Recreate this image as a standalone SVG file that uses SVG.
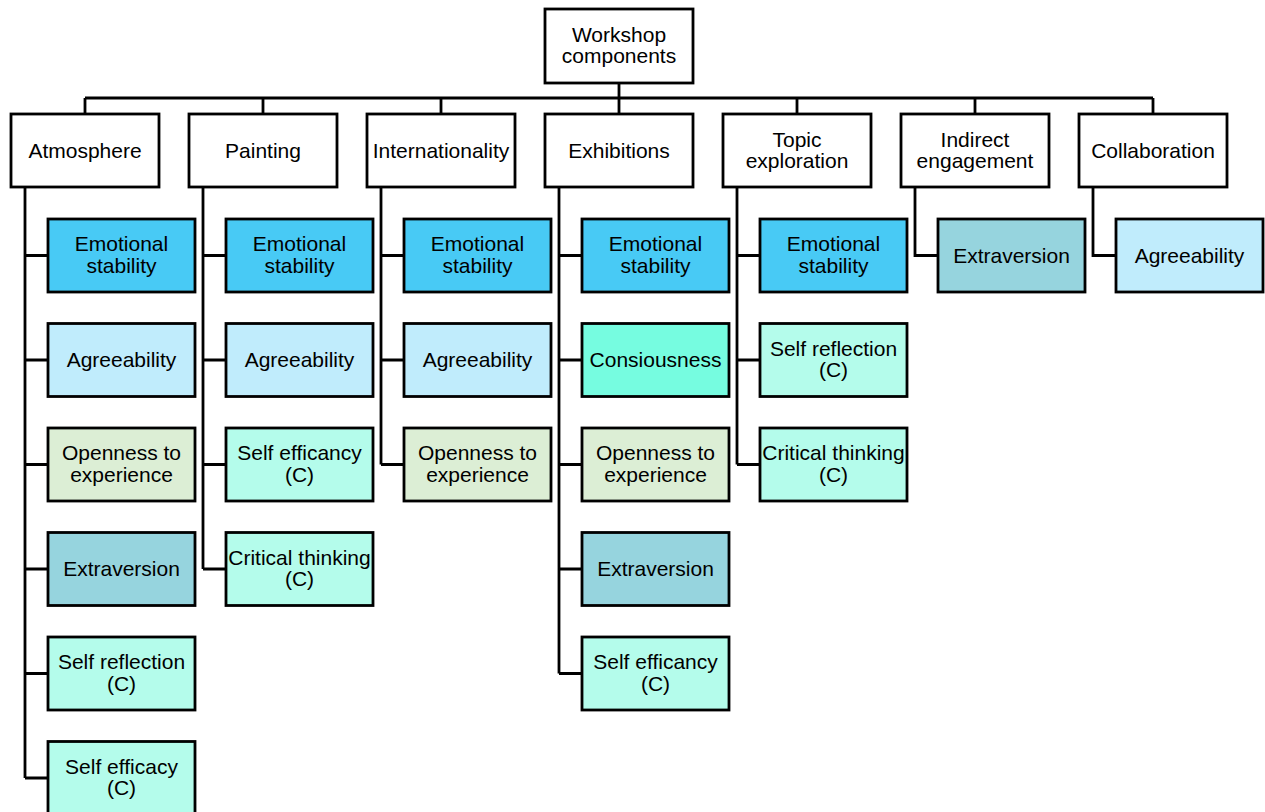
<svg xmlns="http://www.w3.org/2000/svg" width="1265" height="812" viewBox="0 0 1265 812">
<style>
.b{stroke:#000;stroke-width:2.8}
.w{fill:#fff}
.es{fill:#48CAF5}
.ag{fill:#C0ECFC}
.op{fill:#DCEED5}
.ex{fill:#96D4DE}
.cc{fill:#B4FCEB}
.cs{fill:#76FCE0}
text{font-family:"Liberation Sans",Arial,sans-serif;font-size:21px;fill:#000;text-anchor:middle}
.c path{fill:none;stroke:#000;stroke-width:2.8}
</style>
<g class="c" id="connectors">
<path d="M619 83V98M85 98H1153M85 98V114M263 98V114M441 98V114M619 98V114M797 98V114M975 98V114M1153 98V114"/>
<path d="M25 187V778M25 255.5H48M25 360H48M25 464.5H48M25 569H48M25 673.5H48M25 778H48"/>
<path d="M203 187V569M203 255.5H226M203 360H226M203 464.5H226M203 569H226"/>
<path d="M381 187V464.5M381 255.5H404M381 360H404M381 464.5H404"/>
<path d="M559 187V673.5M559 255.5H582M559 360H582M559 464.5H582M559 569H582M559 673.5H582"/>
<path d="M737 187V464.5M737 255.5H760M737 360H760M737 464.5H760"/>
<path d="M915 187V255.5H938"/>
<path d="M1093 187V255.5H1116"/>
</g>
<g id="root"><rect class="b w" x="545" y="9" width="148" height="74"/><text x="619" y="41.5">Workshop</text><text x="619" y="63">components</text></g>
<g id="cat-atmosphere"><rect class="b w" x="11" y="114" width="148" height="73"/><text x="85" y="157.5">Atmosphere</text></g>
<g id="cat-painting"><rect class="b w" x="189" y="114" width="148" height="73"/><text x="263" y="157.5">Painting</text></g>
<g id="cat-internationality"><rect class="b w" x="367" y="114" width="148" height="73"/><text x="441" y="157.5">Internationality</text></g>
<g id="cat-exhibitions"><rect class="b w" x="545" y="114" width="148" height="73"/><text x="619" y="157.5">Exhibitions</text></g>
<g id="cat-topic"><rect class="b w" x="723" y="114" width="148" height="73"/><text x="797" y="146.5">Topic</text><text x="797" y="168">exploration</text></g>
<g id="cat-indirect"><rect class="b w" x="901" y="114" width="148" height="73"/><text x="975" y="146.5">Indirect</text><text x="975" y="168">engagement</text></g>
<g id="cat-collaboration"><rect class="b w" x="1079" y="114" width="148" height="73"/><text x="1153" y="157.5">Collaboration</text></g>

<g id="a1"><rect class="b es" x="48" y="219" width="147" height="73"/><text x="121.5" y="251">Emotional</text><text x="121.5" y="272.5">stability</text></g>
<g id="a2"><rect class="b ag" x="48" y="323.5" width="147" height="73"/><text x="121.5" y="367">Agreeability</text></g>
<g id="a3"><rect class="b op" x="48" y="428" width="147" height="73"/><text x="121.5" y="460">Openness to</text><text x="121.5" y="481.5">experience</text></g>
<g id="a4"><rect class="b ex" x="48" y="532.5" width="147" height="73"/><text x="121.5" y="576">Extraversion</text></g>
<g id="a5"><rect class="b cc" x="48" y="637" width="147" height="73"/><text x="121.5" y="669">Self reflection</text><text x="121.5" y="690.5">(C)</text></g>
<g id="a6"><rect class="b cc" x="48" y="741.5" width="147" height="73"/><text x="121.5" y="773.5">Self efficacy</text><text x="121.5" y="795">(C)</text></g>

<g id="p1"><rect class="b es" x="226" y="219" width="147" height="73"/><text x="299.5" y="251">Emotional</text><text x="299.5" y="272.5">stability</text></g>
<g id="p2"><rect class="b ag" x="226" y="323.5" width="147" height="73"/><text x="299.5" y="367">Agreeability</text></g>
<g id="p3"><rect class="b cc" x="226" y="428" width="147" height="73"/><text x="299.5" y="460">Self efficancy</text><text x="299.5" y="481.5">(C)</text></g>
<g id="p4"><rect class="b cc" x="226" y="532.5" width="147" height="73"/><text x="299.5" y="564.5">Critical thinking</text><text x="299.5" y="586">(C)</text></g>

<g id="i1"><rect class="b es" x="404" y="219" width="147" height="73"/><text x="477.5" y="251">Emotional</text><text x="477.5" y="272.5">stability</text></g>
<g id="i2"><rect class="b ag" x="404" y="323.5" width="147" height="73"/><text x="477.5" y="367">Agreeability</text></g>
<g id="i3"><rect class="b op" x="404" y="428" width="147" height="73"/><text x="477.5" y="460">Openness to</text><text x="477.5" y="481.5">experience</text></g>

<g id="e1"><rect class="b es" x="582" y="219" width="147" height="73"/><text x="655.5" y="251">Emotional</text><text x="655.5" y="272.5">stability</text></g>
<g id="e2"><rect class="b cs" x="582" y="323.5" width="147" height="73"/><text x="655.5" y="367">Consiousness</text></g>
<g id="e3"><rect class="b op" x="582" y="428" width="147" height="73"/><text x="655.5" y="460">Openness to</text><text x="655.5" y="481.5">experience</text></g>
<g id="e4"><rect class="b ex" x="582" y="532.5" width="147" height="73"/><text x="655.5" y="576">Extraversion</text></g>
<g id="e5"><rect class="b cc" x="582" y="637" width="147" height="73"/><text x="655.5" y="669">Self efficancy</text><text x="655.5" y="690.5">(C)</text></g>

<g id="t1"><rect class="b es" x="760" y="219" width="147" height="73"/><text x="833.5" y="251">Emotional</text><text x="833.5" y="272.5">stability</text></g>
<g id="t2"><rect class="b cc" x="760" y="323.5" width="147" height="73"/><text x="833.5" y="355.5">Self reflection</text><text x="833.5" y="377">(C)</text></g>
<g id="t3"><rect class="b cc" x="760" y="428" width="147" height="73"/><text x="833.5" y="460">Critical thinking</text><text x="833.5" y="481.5">(C)</text></g>

<g id="n1"><rect class="b ex" x="938" y="219" width="147" height="73"/><text x="1011.5" y="262.5">Extraversion</text></g>
<g id="c1"><rect class="b ag" x="1116" y="219" width="147" height="73"/><text x="1189.5" y="262.5">Agreeability</text></g>
</svg>
